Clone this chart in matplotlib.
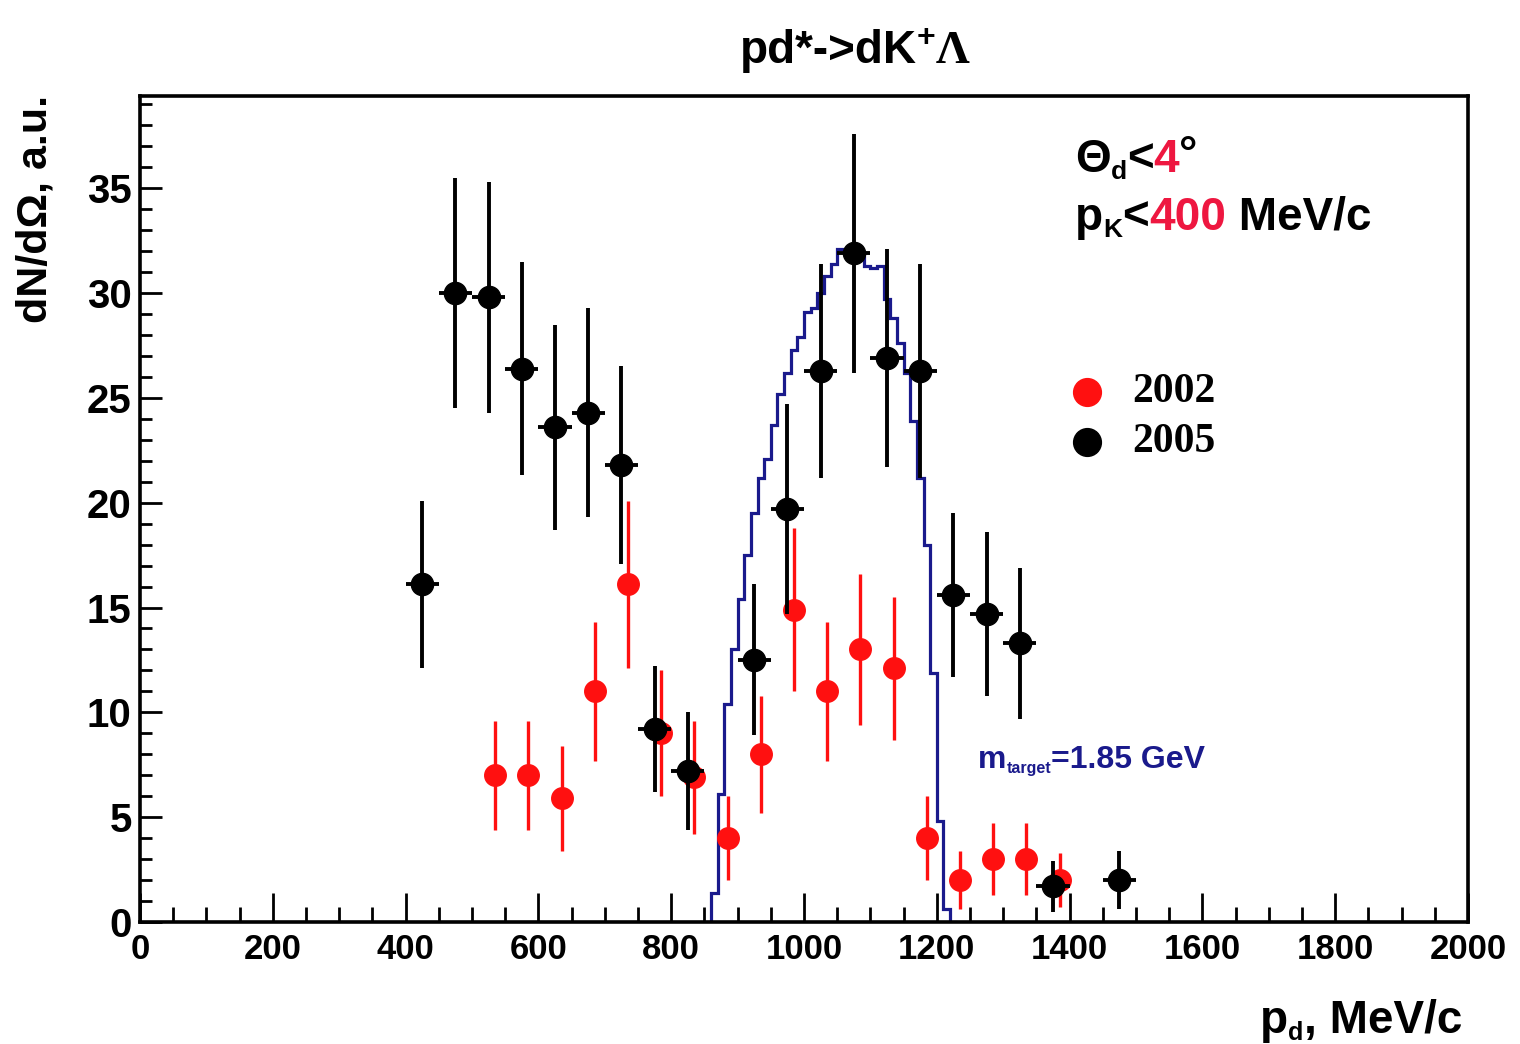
import matplotlib
matplotlib.use("Agg")
import matplotlib.pyplot as plt
from matplotlib.ticker import MultipleLocator

plt.rcParams['font.family'] = ['Liberation Sans', 'DejaVu Sans']

# ---------------- data ----------------
x2005 = [425, 475, 525, 575, 625, 675, 725, 775, 825, 925, 975, 1025, 1075, 1125, 1175, 1225, 1275, 1325, 1375, 1475]
y2005 = [16.1, 30.0, 29.8, 26.4, 23.6, 24.3, 21.8, 9.2, 7.2, 12.5, 19.7, 26.3, 31.9, 26.9, 26.3, 15.6, 14.7, 13.3, 1.7, 2.0]
e2005 = [4.0, 5.5, 5.5, 5.1, 4.9, 5.0, 4.7, 3.0, 2.8, 3.6, 5.0, 5.1, 5.7, 5.2, 5.1, 3.9, 3.9, 3.6, 1.2, 1.4]
xerr2005 = 25

x2002 = [535, 585, 635, 685, 735, 785, 835, 885, 935, 985, 1035, 1085, 1135, 1185, 1235, 1285, 1335, 1385]
y2002 = [7.0, 7.0, 5.9, 11.0, 16.1, 9.0, 6.9, 4.0, 8.0, 14.9, 11.0, 13.0, 12.1, 4.0, 2.0, 3.0, 3.0, 2.0]
e2002 = [2.6, 2.6, 2.5, 3.3, 4.0, 3.0, 2.7, 2.0, 2.8, 3.9, 3.3, 3.6, 3.4, 2.0, 1.4, 1.7, 1.7, 1.3]

# simulation histogram (m_target = 1.85 GeV), 10 MeV/c bins
hist_edges = list(range(850, 1240, 10))
hist_vals = [0.0, 1.4, 6.1, 10.4, 13.0, 15.4, 17.5, 19.5, 21.2, 22.1,
             23.7, 25.2, 26.2, 27.3, 27.9, 29.1, 29.3, 30.0, 30.8, 31.4,
             32.1, 32.1, 32.0, 31.9, 31.3, 31.2, 31.3, 29.7, 28.8, 27.6,
             26.2, 23.9, 21.2, 18.0, 11.9, 4.8, 0.6, 0.0]

xticks = [0, 200, 400, 600, 800, 1000, 1200, 1400, 1600, 1800, 2000]
yticks = [0, 5, 10, 15, 20, 25, 30, 35]

# ---------------- figure ----------------
W, H = 1520, 1044
fig = plt.figure(figsize=(W / 100, H / 100), dpi=100)
ax = fig.add_axes([140 / W, 1 - 922 / H, 1328 / W, 826 / H])

navy = '#1a1a8c'
red = '#ff1010'
pink = '#ee1740'

ax.stairs(hist_vals, hist_edges, color=navy, lw=2.3, zorder=2)

ax.errorbar(x2002, y2002, yerr=e2002, fmt='o', color=red, mec=red, ms=15.5,
            elinewidth=2.4, capsize=0, zorder=3)
ax.errorbar(x2005, y2005, yerr=e2005, xerr=xerr2005, fmt='o', color='black',
            ms=16, elinewidth=2.8, capsize=0, zorder=4)

ax.set_xlim(0, 2000)
ax.set_ylim(0, 39.4)
ax.set_xticks(xticks)
ax.set_yticks(yticks)
ax.xaxis.set_minor_locator(MultipleLocator(50))
ax.yaxis.set_minor_locator(MultipleLocator(1))
ax.tick_params(which='both', direction='in', top=False, right=False, width=2)
ax.xaxis.set_tick_params(which='major', length=21, pad=8, labelsize=25)
ax.xaxis.set_tick_params(which='minor', length=11)
ax.yaxis.set_tick_params(which='major', length=16, pad=6, labelsize=29)
ax.yaxis.set_tick_params(which='minor', length=8.5)
for lab in ax.get_xticklabels() + ax.get_yticklabels():
    lab.set_fontweight('bold')
for sp in ax.spines.values():
    sp.set_linewidth(2.6)

# legend
ax.plot([0.713], [0.6416], 'o', color=red, ms=20, transform=ax.transAxes, clip_on=False)
ax.plot([0.713], [0.581], 'o', color='black', ms=20, transform=ax.transAxes, clip_on=False)
ax.text(0.747, 0.6416, '2002', transform=ax.transAxes, family=['Liberation Serif', 'DejaVu Serif'],
        fontsize=30, fontweight='bold', va='center', ha='left')
ax.text(0.747, 0.581, '2005', transform=ax.transAxes, family=['Liberation Serif', 'DejaVu Serif'],
        fontsize=30, fontweight='bold', va='center', ha='left')

renderer = fig.canvas.get_renderer()
SANS = ['Liberation Sans', 'DejaVu Sans']
SERIF = ['Liberation Serif', 'DejaVu Serif']


def rich(x0, base, pieces):
    x = x0
    for s, size, color, dy, fam, wt in pieces:
        t = fig.text(x / W, 1 - (base - dy) / H, s, fontsize=size, color=color,
                     fontweight=wt, family=fam, ha='left', va='baseline')
        x += t.get_window_extent(renderer).width


# title
rich(740, 63, [("pd*->dK", 33, 'black', 0, SANS, 'bold'),
               ("+", 23, 'black', 17, SANS, 'bold'),
               ("Λ", 34, 'black', 0, SERIF, 'bold')])

# cut annotations
rich(1075, 172, [("Θ", 33, 'black', 0, SANS, 'bold'),
                 ("d", 19, 'black', -7, SANS, 'bold'),
                 ("<", 33, 'black', 0, SANS, 'bold'),
                 ("4", 33, pink, 0, SANS, 'bold'),
                 ("°", 33, 'black', 4, SANS, 'bold')])
rich(1075, 230, [("p", 33, 'black', 0, SANS, 'bold'),
                 ("K", 19, 'black', -7, SANS, 'bold'),
                 ("<", 33, 'black', 0, SANS, 'bold'),
                 ("400", 33, pink, 0, SANS, 'bold'),
                 (" MeV/c", 33, 'black', 0, SANS, 'bold')])

# model label
rich(978, 768, [("m", 23, navy, 0, SANS, 'bold'),
                ("target", 11.5, navy, -5, SANS, 'bold'),
                ("=1.85 GeV", 23, navy, 0, SANS, 'bold')])

# x axis title
rich(1260, 1033, [("p", 33, 'black', 0, SANS, 'bold'),
                  ("d", 18, 'black', -7, SANS, 'bold'),
                  (", MeV/c", 33, 'black', 0, SANS, 'bold')])

# y axis title
fig.text(36 / W, 1 - 95 / H, "dN/dΩ, a.u.", rotation=90, fontsize=31, fontweight='bold',
         ha='center', va='top')

fig.savefig("out.png", dpi=100)
